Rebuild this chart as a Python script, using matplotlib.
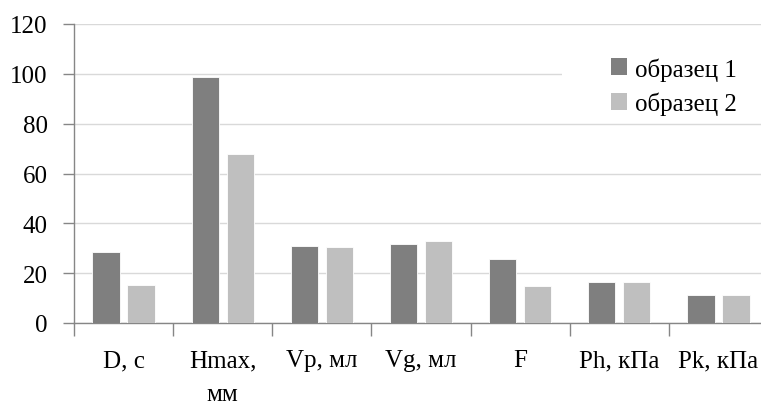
import matplotlib
matplotlib.use("Agg")
import matplotlib.pyplot as plt
import numpy as np
from matplotlib.patches import Patch, Rectangle

categories = ["D, с", "Hmax,\nмм", "Vp, мл", "Vg, мл", "F", "Ph, кПа", "Pk, кПа"]
sample1 = [28.4, 98.7, 30.9, 31.7, 25.7, 16.6, 11.4]
sample2 = [15.1, 67.8, 30.6, 33.0, 14.7, 16.6, 11.4]
series_names = ["образец 1", "образец 2"]
yticks = [0, 20, 40, 60, 80, 100, 120]

plt.rcParams['font.family'] = ['Liberation Serif', 'DejaVu Serif']

fig = plt.figure(figsize=(7.61, 4.06), dpi=100)
ax = fig.add_axes([74/761, 1-324/406, 694/761, (324-25)/406])

x = np.arange(len(categories))
w = 0.275
off = 0.177
c1, c2 = "#7f7f7f", "#bfbfbf"
ax.bar(x - off, sample1, w, color=c1, edgecolor="white", linewidth=0.6, zorder=3)
ax.bar(x + off, sample2, w, color=c2, edgecolor="white", linewidth=0.6, zorder=3)

ax.set_xlim(-0.5, len(categories) - 0.5)
ax.set_ylim(0, 120)
ax.set_yticks(yticks)
ax.yaxis.grid(True, color="#d9d9d9", linewidth=1, zorder=0)
ax.set_axisbelow(True)

ax.set_xticks(np.arange(len(categories) + 1) - 0.5)
ax.set_xticklabels([])
ax.set_xticks(x, minor=True)
ax.set_xticklabels(categories, minor=True, fontsize=18, linespacing=1.7, va='top')
ax.tick_params(axis='x', which='minor', length=0, pad=19)
ax.tick_params(axis='x', which='major', length=9, width=1, color="#868686")
ax.tick_params(axis='y', length=8, width=1, color="#868686", labelsize=18, pad=11)

for s in ["top", "right"]:
    ax.spines[s].set_visible(False)
for s in ["left", "bottom"]:
    ax.spines[s].set_color("#868686")
    ax.spines[s].set_linewidth(1)

# white legend area hiding the gridline behind it
fig.patches.append(Rectangle((562/761, 1-118/406), 200/761, 78/406, transform=fig.transFigure,
                             facecolor='white', edgecolor='none', zorder=2))

handles = [Patch(facecolor=c1), Patch(facecolor=c2)]
leg = fig.legend(handles, series_names, loc='upper left', bbox_to_anchor=(591/761, 1-38/406),
                 frameon=False, fontsize=18, handlelength=0.65, handleheight=0.65,
                 handletextpad=0.3, labelspacing=0.45, borderpad=0.3)
leg.set_zorder(3)

fig.savefig("out.png", dpi=100)
